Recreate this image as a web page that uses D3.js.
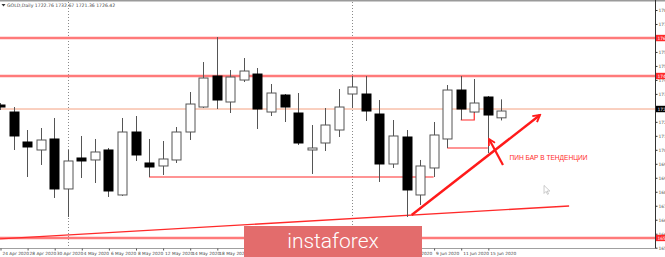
<!DOCTYPE html>
<html>
<head>
<meta charset="utf-8">
<script src="https://cdn.jsdelivr.net/npm/d3@7"></script>
<style>
body { margin: 0; background: #fff; overflow: hidden; }
text { font-family: Tahoma, "DejaVu Sans", sans-serif; }
</style>
</head>
<body>
<script>
var width = 665;
var height = 257;

// daily bars, GOLD
var dates = ["2020-04-24","2020-04-27","2020-04-28","2020-04-29","2020-04-30","2020-05-01",
  "2020-05-04","2020-05-05","2020-05-06","2020-05-07","2020-05-08","2020-05-11","2020-05-12",
  "2020-05-13","2020-05-14","2020-05-15","2020-05-18","2020-05-19","2020-05-20","2020-05-21",
  "2020-05-22","2020-05-25","2020-05-26","2020-05-27","2020-05-28","2020-05-29","2020-06-01",
  "2020-06-02","2020-06-03","2020-06-04","2020-06-05","2020-06-08","2020-06-09","2020-06-10",
  "2020-06-11","2020-06-12","2020-06-15","2020-06-16"];
var opens  = [1729.64,1725.88,1709.80,1705.51,1711.41,1684.60,1701.22,1700.15,1705.51,1681.38,
  1715.16,1698.54,1696.93,1700.15,1715.16,1728.56,1745.19,1731.25,1743.04,1746.26,1725.88,
  1735.00,1725.35,1705.51,1709.26,1716.23,1735.54,1735.54,1724.81,1698.00,1712.48,1681.38,
  1695.86,1711.41,1737.68,1725.88,1733.93,1722.76];
var highs  = [1730.71,1728.56,1716.23,1717.30,1722.67,1705.51,1713.02,1711.41,1706.58,1722.67,
  1723.74,1711.41,1710.33,1717.84,1736.61,1752.69,1766.10,1748.40,1754.84,1749.48,1740.90,
  1735.54,1736.07,1718.91,1728.03,1738.22,1745.19,1745.19,1732.32,1721.59,1716.23,1700.15,
  1720.52,1740.36,1745.19,1743.58,1734.46,1732.67];
var lows   = [1726.96,1705.51,1691.03,1697.47,1679.77,1669.58,1690.49,1687.81,1680.31,1680.84,
  1699.61,1691.03,1692.10,1698.54,1710.87,1728.03,1727.49,1725.35,1741.97,1716.77,1723.74,
  1720.52,1708.19,1692.64,1704.97,1712.48,1728.03,1721.06,1688.35,1695.86,1669.58,1676.02,
  1691.03,1706.58,1721.59,1725.35,1703.90,1721.36];
var closes = [1728.56,1713.02,1707.12,1710.87,1684.60,1699.61,1699.61,1704.44,1683.52,1715.16,
  1702.83,1696.39,1700.68,1715.16,1730.17,1744.11,1732.32,1744.65,1747.87,1727.49,1736.07,
  1728.56,1709.26,1706.58,1718.91,1728.56,1739.29,1726.42,1698.00,1713.02,1684.06,1696.93,
  1713.55,1737.68,1727.49,1730.71,1724.27,1726.42];

var priceTicks = [1780.60,1773.10,1765.60,1758.10,1750.60,1743.10,1735.60,1728.10,1720.60,
  1713.10,1705.60,1698.10,1690.60,1683.10,1675.60,1668.10,1660.60,1653.10];
var dateTicks = d3.range(0, dates.length, 2);
var monthStarts = [5, 26];

// drawn objects (bar index, price)
var levels = [1765.56, 1745.19, 1658.32];
var bidLevel = 1727.49;
var supportLine = [[11, 1691.03], [32, 1691.03]];
var trendLine = [[0, 1657.78], [42, 1675.48]];
var pinLine = [[33, 1706.58], [36, 1706.58]];
var smallMark = [[34, 1721.59], [35, 1721.59], [35, 1725.88]];
var bigArrow = [[30.38, 1670.65], [39.85, 1724.27]];
var pinArrow = [[37.12, 1697.47], [36.09, 1711.41]];
var noteText = "ПИН БАР В ТЕНДЕНЦИИ";
var notePos = [37.6, 1700.2];
var cursorPos = [40.15, 1686.5];

var parse = d3.timeParse("%Y-%m-%d");
var fmtDate = d3.timeFormat("%-d %b %Y");
var fmtPrice = d3.format(".2f");

var svg = d3.select('body').append('svg')
            .attr('width', width)
            .attr('height', height);

var x = d3.scaleLinear().domain([0, 36]).range([0, 487.8]);
var y = d3.scaleLinear().domain([1653.1, 1780.6]).range([247.7, 10]);

var line = d3.line().x(function(d) { return x(d[0]); }).y(function(d) { return y(d[1]); });

// frame
svg.append('rect').attr('x', 0).attr('y', 0).attr('width', width).attr('height', 1.5).attr('fill', '#9a9a9a');
svg.append('line').attr('x1', 0).attr('x2', 655).attr('y1', 248.5).attr('y2', 248.5)
   .attr('stroke', '#a0a0a0');

// month separators
svg.selectAll('.sep').data(monthStarts).enter().append('line')
   .attr('class', 'sep')
   .attr('x1', function(d) { return Math.round(x(d)) + 0.5; })
   .attr('x2', function(d) { return Math.round(x(d)) + 0.5; })
   .attr('y1', 2).attr('y2', 248)
   .attr('stroke', '#8a8a8a').attr('stroke-dasharray', '1,2');

// horizontal levels
svg.selectAll('.lvl').data(levels).enter().append('line')
   .attr('class', 'lvl')
   .attr('x1', 0).attr('x2', 655)
   .attr('y1', function(d) { return y(d); }).attr('y2', function(d) { return y(d); })
   .attr('stroke', '#ff7a7a').attr('stroke-width', 2.4);

svg.append('line')
   .attr('x1', 0).attr('x2', 655)
   .attr('y1', y(bidLevel)).attr('y2', y(bidLevel))
   .attr('stroke', '#f4a080').attr('stroke-width', 1);

// trend objects under candles
svg.append('path').attr('d', line(supportLine)).attr('fill', 'none')
   .attr('stroke', '#ff2a2a').attr('stroke-width', 1.2);
svg.append('path').attr('d', line(trendLine)).attr('fill', 'none')
   .attr('stroke', '#ff2a2a').attr('stroke-width', 1.3);
svg.append('path').attr('d', line(pinLine)).attr('fill', 'none')
   .attr('stroke', '#ff2a2a').attr('stroke-width', 1.2);
svg.append('path').attr('d', line(smallMark)).attr('fill', 'none')
   .attr('stroke', '#ff2a2a').attr('stroke-width', 1.2);

// candles
var bars = dates.map(function(d, i) {
  return { i: i, o: opens[i], h: highs[i], l: lows[i], c: closes[i] };
});

var candle = svg.selectAll('.candle').data(bars).enter().append('g').attr('class', 'candle');

candle.append('line')
   .attr('x1', function(d) { return Math.round(x(d.i)) + 0.5; })
   .attr('x2', function(d) { return Math.round(x(d.i)) + 0.5; })
   .attr('y1', function(d) { return y(d.h); })
   .attr('y2', function(d) { return y(d.l); })
   .attr('stroke', '#555');

candle.append('rect')
   .attr('x', function(d) { return Math.round(x(d.i)) - 4; })
   .attr('width', 9)
   .attr('y', function(d) { return y(Math.max(d.o, d.c)); })
   .attr('height', function(d) { return Math.max(1, Math.abs(y(d.o) - y(d.c))); })
   .attr('fill', function(d) { return d.c >= d.o ? '#fff' : '#000'; })
   .attr('stroke', function(d) { return d.c >= d.o ? '#555' : '#000'; })
   .attr('stroke-width', 1);

// arrows
var defs = svg.append('defs');
defs.append('marker').attr('id', 'head')
   .attr('viewBox', '0 0 10 10').attr('refX', 8).attr('refY', 5)
   .attr('markerWidth', 4).attr('markerHeight', 4).attr('orient', 'auto')
   .append('path').attr('d', 'M1,1 L8,5 L1,9').attr('fill', 'none')
   .attr('stroke', '#ff1a1a').attr('stroke-width', 2);

svg.append('path').attr('d', line(bigArrow)).attr('fill', 'none')
   .attr('stroke', '#ff1a1a').attr('stroke-width', 2.4).attr('marker-end', 'url(#head)');
svg.append('path').attr('d', line(pinArrow)).attr('fill', 'none')
   .attr('stroke', '#ff1a1a').attr('stroke-width', 2.2).attr('marker-end', 'url(#head)');

svg.append('text')
   .attr('x', x(notePos[0])).attr('y', y(notePos[1]))
   .attr('font-size', 7.2).attr('fill', '#ff2a2a')
   .style('font-family', '"Liberation Sans", Arial, sans-serif')
   .attr('textLength', 78).attr('lengthAdjust', 'spacingAndGlyphs')
   .text(noteText);

// mouse pointer
svg.append('path')
   .attr('transform', 'translate(' + x(cursorPos[0]) + ',' + y(cursorPos[1]) + ')')
   .attr('d', 'M0,0 L0,8 L2,6 L3.5,9 L4.5,8.5 L3.2,5.6 L5.8,5.6 Z')
   .attr('fill', '#fff').attr('stroke', '#aaa').attr('stroke-width', 0.6);

// price axis
var yAxis = d3.axisRight(y).tickValues(priceTicks).tickFormat(fmtPrice).tickSize(2).tickPadding(1);
var ya = svg.append('g').attr('transform', 'translate(655.5,0)').call(yAxis);
ya.select('.domain').attr('stroke', '#333').attr('d', 'M0,0V248.5');
ya.selectAll('.tick line').attr('stroke', '#333');
ya.selectAll('text').attr('font-size', 4.4).attr('fill', '#555')
   .style('font-family', 'Tahoma, "DejaVu Sans", sans-serif');

// price labels of levels
var lab = svg.selectAll('.plab').data(levels.map(function(v) { return { v: v, bg: '#ff2a2a' }; })
   .concat([{ v: bidLevel, t: closes[closes.length - 1], bg: '#000' }]))
   .enter().append('g').attr('class', 'plab')
   .attr('transform', function(d) { return 'translate(656,' + y(d.v) + ')'; });
lab.append('rect').attr('x', 0).attr('y', -3.2).attr('width', 12).attr('height', 6.4)
   .attr('fill', function(d) { return d.bg; });
lab.append('text').attr('x', 1.5).attr('y', 1.6).attr('font-size', 4.4).attr('fill', '#fff')
   .text(function(d) { return fmtPrice(d.t || d.v); });

// time axis
var xAxis = d3.axisBottom(x).tickValues(dateTicks)
   .tickFormat(function(i) { return fmtDate(parse(dates[i])); })
   .tickSize(2).tickPadding(1);
var xa = svg.append('g').attr('transform', 'translate(0.5,248.5)').call(xAxis);
xa.select('.domain').remove();
xa.selectAll('.tick line').attr('stroke', '#555');
xa.selectAll('text').attr('font-size', 4.3).attr('fill', '#444')
   .attr('text-anchor', 'start').attr('dx', 1.5)
   .style('font-family', 'Tahoma, "DejaVu Sans", sans-serif');

// header
var last = bars[bars.length - 1];
svg.append('path').attr('d', 'M1.5,4 L5.5,4 L3.5,6.5 Z').attr('fill', '#333');
svg.append('text').attr('x', 7).attr('y', 7).attr('font-size', 4.6).attr('fill', '#444')
   .text('GOLD,Daily  ' + [last.o, last.h, last.l, last.c].map(fmtPrice).join(' '));

// watermark
var logo = svg.append('g');
logo.append('rect').attr('x', 244).attr('y', 226).attr('width', 178).attr('height', 32)
   .attr('fill', '#e36c6c');
logo.append('text').attr('x', 333).attr('y', 248).attr('text-anchor', 'middle')
   .attr('font-size', 21).attr('fill', '#fff').attr('font-weight', 300)
   .style('font-family', 'Roboto, "Open Sans", sans-serif')
   .text('instaforex');
</script>
</body>
</html>
